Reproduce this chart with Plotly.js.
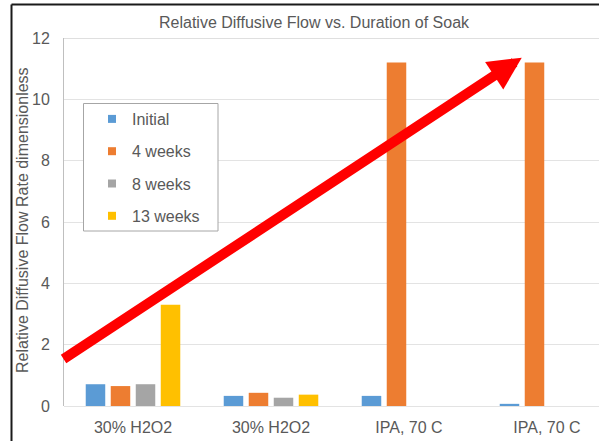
<!DOCTYPE html>
<html>
<head>
<meta charset="utf-8">
<script src="https://cdn.plot.ly/plotly-3.0.1.min.js"></script>
<style>
  html, body { margin: 0; padding: 0; overflow: hidden; background: #ffffff; }
  #chart { width: 640px; height: 441px; }
</style>
</head>
<body>
<div id="chart"></div>
<script>
// Soak conditions (two samples per chemistry)
const categories = ['30% H2O2', '30% H2O2', 'IPA, 70 C', 'IPA, 70 C'];

// Relative diffusive flow at each soak duration
const initial = [0.71, 0.33, 0.33, 0.07];
const weeks4  = [0.65, 0.43, 11.2, 11.2];
const weeks8  = [0.71, 0.27, null, null];
const weeks13 = [3.3, 0.37, null, null];

const seriesNames  = ['Initial', '4 weeks', '8 weeks', '13 weeks'];
const seriesValues = [initial, weeks4, weeks8, weeks13];
const seriesColors = ['#5B9BD5', '#ED7D31', '#A5A5A5', '#FFC000'];

const yTicks = [0, 2, 4, 6, 8, 10, 12];

const xPos = categories.map((c, i) => i);
const textGray = '#595959';
const font = 'Liberation Sans, Arial, sans-serif';

const traces = [];
seriesNames.forEach((name, k) => {
  traces.push({
    type: 'bar',
    name: name,
    x: xPos,
    y: seriesValues[k],
    marker: { color: seriesColors[k] },
    showlegend: false,
    hoverinfo: 'x+y+name'
  });
});
// Legend entries with small square swatches
seriesNames.forEach((name, k) => {
  traces.push({
    type: 'scatter',
    mode: 'markers',
    name: name,
    x: [null],
    y: [null],
    legendgroup: 'g' + k,
    marker: { color: seriesColors[k], symbol: 'square', size: 8 },
    showlegend: true
  });
});

const W = 640, H = 441;
const m = { l: 64, r: 24, t: 38, b: 35 };
const pw = W - m.l - m.r, ph = H - m.t - m.b;
const px = x => (x - m.l) / pw;          // page x -> paper x
const py = y => (H - m.b - y) / ph;      // page y -> paper y

const layout = {
  width: W,
  height: H,
  margin: m,
  paper_bgcolor: '#ffffff',
  plot_bgcolor: '#ffffff',
  font: { family: font, size: 16, color: textGray },
  title: {
    text: 'Relative Diffusive Flow vs. Duration of Soak',
    font: { family: font, size: 16, color: textGray },
    x: 314 / W, xref: 'container', xanchor: 'center',
    y: 1 - 22 / H, yref: 'container', yanchor: 'middle'
  },
  barmode: 'group',
  bargap: 0.275,
  bargroupgap: 0.22,
  xaxis: {
    range: [-0.5, 3.5],
    tickvals: xPos,
    ticktext: categories,
    showgrid: false,
    zeroline: false,
    showline: false,
    ticks: '',
    ticklabelstandoff: 10,
    tickfont: { family: font, size: 16, color: textGray },
    fixedrange: true
  },
  yaxis: {
    range: [0, 12],
    tickvals: yTicks,
    showgrid: true,
    gridcolor: '#E3E3E3',
    gridwidth: 1,
    zeroline: true,
    zerolinecolor: '#E3E3E3',
    zerolinewidth: 1,
    showline: true,
    linecolor: '#BFBFBF',
    linewidth: 1,
    ticks: '',
    ticklabelstandoff: 10,
    tickfont: { family: font, size: 16, color: textGray },
    fixedrange: true
  },
  showlegend: true,
  legend: {
    x: px(92), y: py(102),
    xanchor: 'left', yanchor: 'top',
    bgcolor: 'rgba(0,0,0,0)',
    borderwidth: 0,
    traceorder: 'grouped',
    tracegroupgap: 8.5,
    font: { family: font, size: 16, color: textGray }
  },
  shapes: [
    // plot-area top edge
    { type: 'line', xref: 'paper', yref: 'y', x0: 0, x1: 1, y0: 12, y1: 12,
      line: { color: '#BFBFBF', width: 1 } },
    // legend frame
    { type: 'rect', xref: 'paper', yref: 'paper', layer: 'above',
      x0: px(83.5), x1: px(218), y0: py(231), y1: py(103.5),
      fillcolor: '#ffffff', line: { color: '#A6A6A6', width: 1 } },
    // outer frame (left and top)
    { type: 'line', xref: 'paper', yref: 'paper', x0: px(11.5), x1: px(11.5), y0: py(445), y1: py(4.5),
      line: { color: '#1a1a1a', width: 2 } },
    { type: 'line', xref: 'paper', yref: 'paper', x0: px(11.5), x1: px(650), y0: py(4.5), y1: py(4.5),
      line: { color: '#1a1a1a', width: 2 } }
  ],
  annotations: [
    {
      // y-axis title
      text: 'Relative Diffusive Flow Rate dimensionless',
      font: { family: font, size: 16, color: textGray },
      textangle: -90,
      xref: 'paper', yref: 'paper',
      x: px(22.5), y: py(220.5),
      xanchor: 'center', yanchor: 'middle',
      showarrow: false
    },
    {
      // trend arrow
      text: '',
      font: { size: 1 },
      xref: 'x', yref: 'y', axref: 'x', ayref: 'y',
      x: 2.817, y: 11.36,
      ax: -0.514, ay: 1.5,
      showarrow: true,
      arrowhead: 2,
      arrowsize: 0.66,
      arrowwidth: 10,
      arrowcolor: '#FF0000',
      standoff: 0
    }
  ]
};

Plotly.newPlot('chart', traces, layout, { displayModeBar: false, staticPlot: true });
</script>
</body>
</html>
